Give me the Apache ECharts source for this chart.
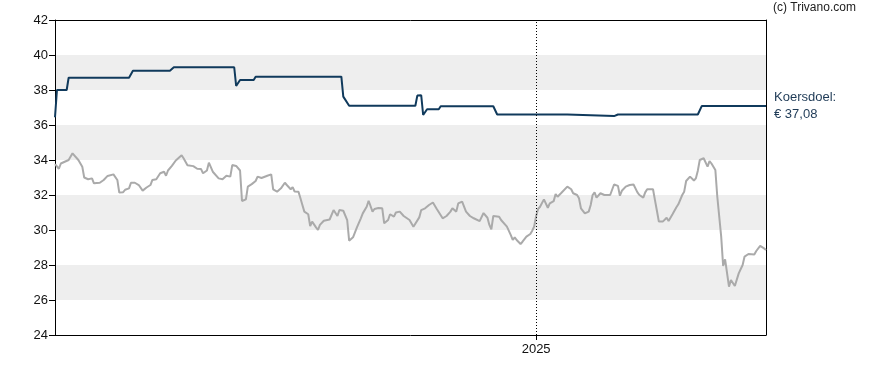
<!DOCTYPE html>
<html><head><meta charset="utf-8">
<script src="https://cdn.jsdelivr.net/npm/echarts@6/dist/echarts.min.js"></script>
<style>html,body{margin:0;padding:0;background:#fff}#c{width:888px;height:370px}</style>
</head><body><div id="c"></div>
<script>
const priceDates = [
'2024-04-29','2024-05-01','2024-05-02','2024-05-04','2024-05-05','2024-05-06','2024-05-08','2024-05-09','2024-05-11','2024-05-13',
'2024-05-14','2024-05-16','2024-05-18','2024-05-19','2024-05-20','2024-05-22','2024-05-24','2024-05-25','2024-05-26','2024-05-27',
'2024-05-29','2024-05-31','2024-06-01','2024-06-03','2024-06-04','2024-06-06','2024-06-07','2024-06-09','2024-06-11','2024-06-13',
'2024-06-15','2024-06-17','2024-06-18','2024-06-20','2024-06-22','2024-06-24','2024-06-25','2024-06-26','2024-06-28','2024-06-30',
'2024-07-01','2024-07-03','2024-07-04','2024-07-06','2024-07-07','2024-07-09','2024-07-11','2024-07-13','2024-07-14','2024-07-16',
'2024-07-17','2024-07-19','2024-07-20','2024-07-22','2024-07-23','2024-07-24','2024-07-26','2024-07-28','2024-07-29','2024-07-31',
'2024-08-02','2024-08-03','2024-08-05','2024-08-06','2024-08-08','2024-08-10','2024-08-11','2024-08-13','2024-08-14','2024-08-16',
'2024-08-17','2024-08-18','2024-08-19','2024-08-21','2024-08-23','2024-08-25','2024-08-26','2024-08-28','2024-08-29','2024-08-30',
'2024-09-01','2024-09-02','2024-09-03','2024-09-04','2024-09-06','2024-09-07','2024-09-08','2024-09-10','2024-09-11','2024-09-12',
'2024-09-14','2024-09-15','2024-09-17','2024-09-18','2024-09-19','2024-09-21','2024-09-22','2024-09-24','2024-09-26','2024-09-27',
'2024-09-29','2024-10-01','2024-10-03','2024-10-04','2024-10-06','2024-10-07','2024-10-09','2024-10-10','2024-10-12','2024-10-14',
'2024-10-15','2024-10-17','2024-10-18','2024-10-20','2024-10-21','2024-10-23','2024-10-25','2024-10-26','2024-10-28','2024-10-30',
'2024-10-31','2024-11-02','2024-11-03','2024-11-05','2024-11-07','2024-11-09','2024-11-11','2024-11-12','2024-11-14','2024-11-16',
'2024-11-18','2024-11-19','2024-11-21','2024-11-22','2024-11-24','2024-11-26','2024-11-28','2024-11-30','2024-12-01','2024-12-03',
'2024-12-05','2024-12-07','2024-12-08','2024-12-09','2024-12-10','2024-12-13','2024-12-14','2024-12-15','2024-12-17','2024-12-19',
'2024-12-20','2024-12-21','2024-12-22','2024-12-24','2024-12-25','2024-12-27','2024-12-29','2024-12-30','2024-12-31','2025-01-01',
'2025-01-02','2025-01-03','2025-01-04','2025-01-05','2025-01-06','2025-01-07','2025-01-08','2025-01-10','2025-01-11','2025-01-12',
'2025-01-14','2025-01-15','2025-01-17','2025-01-19','2025-01-20','2025-01-22','2025-01-23','2025-01-24','2025-01-26','2025-01-28',
'2025-01-29','2025-01-30','2025-01-31','2025-02-01','2025-02-03','2025-02-05','2025-02-06','2025-02-08','2025-02-09','2025-02-10',
'2025-02-12','2025-02-13','2025-02-14','2025-02-16','2025-02-18','2025-02-19','2025-02-20','2025-02-22','2025-02-23','2025-02-25',
'2025-02-26','2025-02-27','2025-02-28','2025-03-02','2025-03-03','2025-03-04','2025-03-05','2025-03-07','2025-03-09','2025-03-10',
'2025-03-12','2025-03-14','2025-03-15','2025-03-17','2025-03-18','2025-03-19','2025-03-21','2025-03-23','2025-03-24','2025-03-25',
'2025-03-26','2025-03-28','2025-03-30','2025-03-31','2025-04-01','2025-04-03','2025-04-04','2025-04-06','2025-04-07','2025-04-08',
'2025-04-09','2025-04-10','2025-04-11','2025-04-12','2025-04-13','2025-04-15','2025-04-17','2025-04-18','2025-04-20','2025-04-21',
'2025-04-23','2025-04-24','2025-04-26','2025-04-28','2025-04-29'
];
const priceValues = [
33.77,33.5,33.8,33.9,33.8,34.0,34.38,34.35,34.0,33.62,
33.0,32.9,32.95,32.67,32.76,32.7,32.86,32.8,33.09,33.0,
33.18,32.86,32.14,32.16,32.3,32.38,32.7,32.7,32.57,32.25,
32.43,32.57,32.86,32.9,33.24,33.33,33.1,33.4,33.66,33.97,
33.9,34.27,34.1,33.7,33.6,33.65,33.5,33.48,33.24,33.4,
33.85,33.33,33.27,32.95,33.0,32.9,33.1,33.05,33.71,33.66,
33.4,31.66,31.75,32.48,32.62,32.8,33.05,32.97,33.05,33.1,
33.0,33.18,32.32,32.19,32.38,32.7,32.57,32.33,32.45,32.2,
32.19,31.81,31.43,31.05,30.9,30.23,30.48,30.15,30.0,30.29,
30.53,30.45,30.6,30.67,31.14,30.8,31.14,31.1,30.57,29.39,
29.58,30.15,30.67,30.95,31.33,31.67,31.05,31.2,31.26,31.24,
30.38,30.57,30.9,30.76,31.0,31.05,30.8,30.9,30.57,30.19,
30.13,30.72,31.14,31.24,31.43,31.57,31.2,31.1,30.67,30.8,
31.05,31.24,31.05,31.52,31.62,31.05,30.8,30.67,30.67,30.51,
30.97,30.7,30.29,30.04,30.8,30.76,30.57,30.51,30.19,29.71,
29.43,29.58,29.43,29.2,29.33,29.62,29.77,29.96,30.2,30.8,
31.2,31.33,31.43,31.75,31.7,31.27,31.52,31.65,32.06,31.9,
32.13,32.19,32.48,32.33,32.1,32.0,31.81,31.24,30.95,31.05,
31.43,32.0,32.15,31.85,32.1,32.0,31.9,32.0,32.02,32.6,
32.52,31.96,32.24,32.48,32.57,32.62,32.6,32.15,32.0,31.85,
32.15,32.33,32.24,32.33,31.71,31.1,30.48,30.48,30.7,30.51,
30.9,31.3,31.47,32.0,32.19,32.8,33.05,32.83,32.95,33.39,
34.0,34.1,33.62,33.94,33.8,33.43,31.9,29.62,27.94,28.32,
28.3,26.76,27.14,27.14,26.8,27.52,28.0,28.48,28.63,28.54,
28.6,28.8,29.09,28.95,28.86
];
const targetDates = ['2024-04-29','2024-04-30','2024-05-05','2024-05-06','2024-06-06','2024-06-08','2024-06-27','2024-06-29','2024-07-30','2024-07-31','2024-08-02','2024-08-09','2024-08-10','2024-09-23','2024-09-24','2024-09-25','2024-09-27','2024-10-31','2024-11-01','2024-11-03','2024-11-04','2024-11-06','2024-11-12','2024-11-13','2024-12-10','2024-12-12','2025-01-17','2025-01-18','2025-02-10','2025-02-12','2025-03-25','2025-03-27','2025-04-29'];
const targetValues = [36.44,38.0,38.0,38.7,38.7,39.1,39.1,39.3,39.3,38.23,38.57,38.57,38.76,38.76,37.62,37.6,37.1,37.1,37.68,37.7,36.57,36.9,36.9,37.07,37.07,36.6,36.6,36.51,36.51,36.6,36.6,37.08,37.08];
const yMin = 24, yMax = 42, yStep = 2;
const xStart = '2024-04-29', xEnd = '2025-04-29';
const xTickDates = ['2025-01-01'];
const xTickLabels = ['2025'];
const targetLabel = ['Koersdoel:', '€ 37,08'];
const credit = '(c) Trivano.com';

const toTs = s => { const p = s.split('-').map(Number); return Date.UTC(p[0], p[1]-1, p[2]); };
const tickTs = xTickDates.map(toTs);
const priceData = priceDates.map((d, i) => [toTs(d), priceValues[i]]);
const targetData = targetDates.map((d, i) => [toTs(d), targetValues[i]]);

const chart = echarts.init(document.getElementById('c'), null, {renderer: 'canvas'});
const font = 'Arial, "Liberation Sans", Helvetica, sans-serif';
chart.setOption({
  animation: false,
  textStyle: {fontFamily: font},
  grid: {left: 55, right: 122, top: 20, bottom: 35},
  graphic: [{type: 'text', left: 773, top: 2, style: {text: credit, fill: '#222', font: '12px ' + font}}],
  xAxis: [{
    type: 'value', min: toTs(xStart), max: toTs(xEnd), scale: true,
    axisLine: {show: true, lineStyle: {color: '#000', width: 1}},
    axisTick: {show: true, customValues: tickTs, length: 5, lineStyle: {color: '#000'}},
    axisLabel: {show: true, customValues: tickTs, color: '#111', fontSize: 13, margin: 8,
      formatter: v => { const i = tickTs.indexOf(+v); return i >= 0 ? xTickLabels[i] : ''; }},
    splitLine: {show: false}
  }, {
    type: 'value', position: 'top', min: toTs(xStart), max: toTs(xEnd), scale: true,
    axisLine: {show: true, lineStyle: {color: '#000', width: 1}},
    axisTick: {show: false}, axisLabel: {show: false}, splitLine: {show: false}
  }],
  yAxis: [{
    type: 'value', min: yMin, max: yMax, interval: yStep,
    axisLine: {show: true, lineStyle: {color: '#000', width: 1}},
    axisTick: {show: true, length: 6, lineStyle: {color: '#000'}},
    axisLabel: {color: '#111', fontSize: 13, margin: 7},
    splitLine: {show: false},
    splitArea: {show: true, areaStyle: {color: ['#ffffff', '#eeeeee']}}
  }, {
    type: 'value', position: 'right', min: yMin, max: yMax, interval: yStep,
    axisLine: {show: true, lineStyle: {color: '#000', width: 1}},
    axisTick: {show: false}, axisLabel: {show: false}, splitLine: {show: false}
  }],
  series: [{
    type: 'line', data: priceData, showSymbol: false, smooth: false,
    lineStyle: {color: '#aaaaaa', width: 2}, itemStyle: {color: '#aaaaaa'},
    markLine: {silent: true, symbol: 'none', label: {show: false},
      lineStyle: {color: '#000', type: [1, 2], width: 1},
      data: tickTs.map(t => ({xAxis: t}))}
  }, {
    type: 'line', data: targetData, showSymbol: false,
    lineStyle: {color: '#103a5c', width: 2}, itemStyle: {color: '#103a5c'},
    endLabel: {show: true, formatter: targetLabel.join('\n'), color: '#1e3a56', fontSize: 13, lineHeight: 17, distance: 8, align: 'left'}
  }]
});
</script></body></html>
